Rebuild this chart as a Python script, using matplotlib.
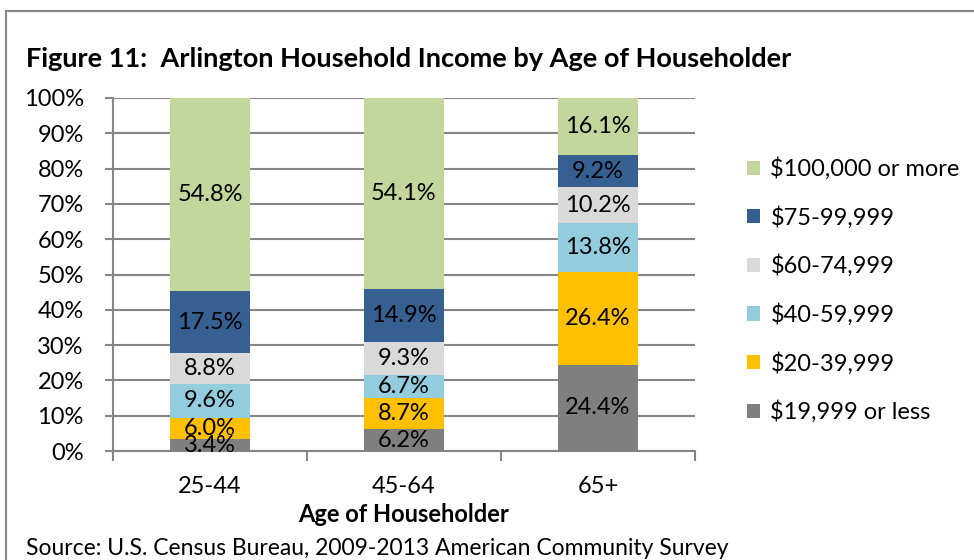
import matplotlib
matplotlib.use("Agg")
import matplotlib.pyplot as plt
from matplotlib.lines import Line2D
from matplotlib.patches import Patch
import numpy as np

plt.rcParams['font.family'] = ['Lato', 'DejaVu Sans']

# 数据
ages = ["25-44", "45-64", "65+"]
brackets = ["$19,999 or less", "$20-39,999", "$40-59,999",
            "$60-74,999", "$75-99,999", "$100,000 or more"]
colors = ["#7F7F7F", "#FFC000", "#93CDDD", "#D9D9D9", "#376092", "#C3D69B"]
values = [
    [3.4, 6.2, 24.4],
    [6.0, 8.7, 26.4],
    [9.6, 6.7, 13.8],
    [8.8, 9.3, 10.2],
    [17.5, 14.9, 9.2],
    [54.8, 54.1, 16.1],
]

vals = np.array(values)
shares = vals / vals.sum(axis=0) * 100  # 100% stacked like Excel

FS = 17

fig = plt.figure(figsize=(9.74, 5.6), dpi=100)
ax = fig.add_axes([0.116, 0.1946, 0.5975, 0.6304])

x = np.arange(len(ages))
bottom = np.zeros(len(ages))
for i, name in enumerate(brackets):
    ax.bar(x, shares[i], bottom=bottom, width=0.41, color=colors[i],
           label=name, zorder=3)
    for j in range(len(ages)):
        ax.text(x[j], bottom[j] + shares[i][j] / 2, f"{values[i][j]:.1f}%",
                ha="center", va="center", fontsize=FS, color="black", zorder=4)
    bottom += shares[i]

ax.set_xlim(-0.5, 2.5)
ax.set_ylim(0, 100)
ax.set_yticks(range(0, 101, 10))
ax.set_yticklabels([f"{v}%" for v in range(0, 101, 10)], fontsize=FS)
ax.set_xticks(x)
ax.set_xticklabels(ages, fontsize=FS)
ax.tick_params(axis="x", length=0, pad=18)
ax.set_xticks([-0.5, 0.5, 1.5, 2.5], minor=True)
ax.tick_params(axis="x", which="minor", length=7, width=1.5, color="#868686")
ax.tick_params(axis="y", length=6, width=1.5, color="#868686", pad=15)
ax.grid(axis="y", color="#868686", linewidth=1.5, zorder=0)
for s in ["top", "right"]:
    ax.spines[s].set_visible(False)
for s in ["left", "bottom"]:
    ax.spines[s].set_color("#868686")
    ax.spines[s].set_linewidth(1.5)
ax.set_xlabel("Age of Householder", fontsize=FS, fontweight="bold", labelpad=4)

handles = [Patch(facecolor=c) for c in colors][::-1]
fig.legend(handles, brackets[::-1], loc="upper left",
           bbox_to_anchor=(0.745, 0.757), frameon=False, fontsize=FS,
           handlelength=0.55, handleheight=0.55, handletextpad=0.45,
           labelspacing=1.1)

fig.text(0.027, 0.895, "Figure 11:  Arlington Household Income by Age of Householder",
         fontsize=19.5, fontweight="bold", va="center", ha="left")
fig.text(0.027, 0.02, "Source: U.S. Census Bureau, 2009-2013 American Community Survey",
         fontsize=16.5, va="center", ha="left")

# 外框
fig.add_artist(Line2D([0.006, 0.006], [0, 0.98], color="#868686", linewidth=1.5))
fig.add_artist(Line2D([0.006, 1.0], [0.98, 0.98], color="#868686", linewidth=1.5))

fig.savefig("out.png", dpi=100, facecolor="white")
plt.close(fig)
